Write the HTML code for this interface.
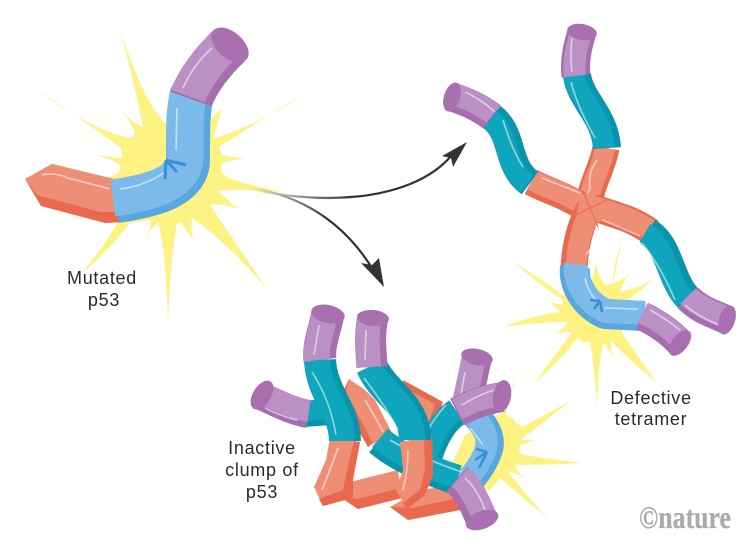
<!DOCTYPE html>
<html><head><meta charset="utf-8">
<style>
html,body{margin:0;padding:0;background:#fff}
svg{display:block}
text{font-family:"Liberation Sans",sans-serif;fill:#2b2b2b;font-size:18px;letter-spacing:.7px;text-anchor:middle}
path{fill:none;stroke-linecap:butt;stroke-linejoin:round}
.h{stroke:#fff;stroke-opacity:.55;stroke-width:1.6}
.b{fill:#FEF282;stroke:none}
.pl{stroke:#BA90C5}.pd{stroke:#A66EAF}
.bl{stroke:#7CBBE9}.bd{stroke:#58A7DF}
.tl{stroke:#0FA5BD}.td{stroke:#0A94AC}
.ol{stroke:#EE8E75}.od{stroke:#E8694E}
.e1{fill:#A96FB0}
</style></head>
<body>
<svg width="751" height="556" viewBox="0 0 751 556" xmlns="http://www.w3.org/2000/svg">
<defs>
<linearGradient id="g1" gradientUnits="userSpaceOnUse" x1="250" y1="188" x2="350" y2="195"><stop offset="0" stop-color="#FEF282"/><stop offset=".35" stop-color="#bbb"/><stop offset="1" stop-color="#333"/></linearGradient>
<linearGradient id="g2" gradientUnits="userSpaceOnUse" x1="250" y1="188" x2="330" y2="215"><stop offset="0" stop-color="#FEF282"/><stop offset=".4" stop-color="#aaa"/><stop offset="1" stop-color="#333"/></linearGradient>
</defs>

<!-- main burst -->
<path class="b" d="M118,23 Q142,100 165,123 L205,125 L222,108 L213,139 Q265,122 305,93 Q245,130 219,147 L222,155 Q232,158 248,158 Q232,160 222,163 Q218,172 228,178 Q255,187 285,192 Q240,188 218,191 Q225,198 238,209 Q222,203 210,205 Q240,250 268,290 Q225,240 192,218 Q190,232 194,241 Q188,232 180,222 L177,223 Q170,260 168,325 Q166,250 158,222 Q150,230 144,241 Q152,228 150,220 L130,223 Q105,255 82,273 Q105,245 118,222 L107,177 Q122,175 120,165 Q110,158 93,155 Q112,157 122,158 Q122,150 120,147 Q85,122 35,88 Q90,130 130,138 Q137,135 133,128 Q128,118 121,110 Q135,125 143,127 Q135,85 118,23Z"/>

<!-- arrows -->
<path d="M245,187 C310,205 410,205 452,155" stroke="url(#g1)" stroke-width="2.2"/>
<polygon points="467,142 442,156 451,158 453,167" fill="#333"/>
<path d="M245,187 C305,195 345,225 372,268" stroke="url(#g2)" stroke-width="2.2"/>
<polygon points="384,287 361,263 372,265 379,258" fill="#333"/>

<!-- main monomer -->
<polygon points="25,179 52,164 118,180 124,222 105,223 41,206" fill="#E8694E"/>
<polygon points="25,179 52,164 118,180 120,212 100,212 37,195" fill="#EE8E75"/>
<path class="h" d="M42,175 Q55,172 68,178 L110,189"/>
<path class="bd" stroke-width="44" d="M192,94 C188,110 188,125 188,160 Q188,180 160,191 Q140,198 116,201"/>
<path class="bl" stroke-width="37" transform="translate(-3,-3)" d="M192,94 C188,110 188,125 188,160 Q188,180 160,191 Q140,198 116,201"/>
<path class="h" d="M177,108 L176,150"/><path class="h" d="M120,189 Q145,186 165,172"/>
<path d="M166,160 L186,165 M166,160 L177,172 M166,160 L165,179" stroke="#3292D3" stroke-width="3"/>
<path class="pd" stroke-width="44" d="M191,99 C197,82 212,62 230,45"/>
<path class="pl" stroke-width="36" transform="translate(-3,-3)" d="M191,99 C197,82 212,62 230,45"/>
<path class="h" d="M183,88 Q193,65 212,48"/>
<ellipse class="e1" cx="230" cy="45" rx="22" ry="13" transform="rotate(41 230 45)"/>

<!-- tetramer burst -->
<path class="b" d="M622,240 Q612,270 613,283 Q620,282 628,275 Q622,285 620,292 Q640,288 655,278 Q635,295 620,305 L622,333 Q640,360 657,383 Q635,365 610,340 Q611,348 612,355 Q607,348 603,342 Q598,370 597,407 Q595,370 590,342 L583,342 Q578,338 578,338 Q560,360 535,383 Q555,355 572,332 Q565,332 555,333 Q565,328 568,322 Q535,322 503,327 Q535,315 560,312 Q555,306 550,302 Q558,304 563,305 L563,300 Q540,285 515,263 Q540,278 563,295 L590,285 Q594,275 596,263 Q598,275 605,285 Q610,285 613,283 Z"/>

<!-- tetramer arms -->
<path class="od" stroke-width="27" d="M606,148 C602,170 590,185 589,208"/>
<path class="ol" stroke-width="20" transform="translate(-1,0)" d="M606,148 C602,170 590,185 589,208"/>
<path class="h" d="M597,160 Q588,172 590,188 Q587,196 584,200"/>
<path class="od" stroke-width="27" d="M531,182 C550,192 565,195 586,209"/>
<path class="ol" stroke-width="21" transform="translate(1,-2)" d="M531,182 C550,192 565,195 586,209"/>
<path class="h" d="M542,178 L580,193"/>
<path class="od" stroke-width="27" d="M592,207 L625,218 Q640,224 651,232"/>
<path class="ol" stroke-width="21" transform="translate(0,-1)" d="M592,207 L625,218 Q640,224 651,232"/>
<path class="h" d="M600,219 L640,236"/>
<path class="od" stroke-width="27" d="M590,208 C580,225 575,245 574,270"/>
<path class="ol" stroke-width="21" transform="translate(2,0)" d="M590,208 C580,225 575,245 574,270"/>
<path class="h" d="M596,225 Q598,240 586,255"/>
<polygon points="590,192 606,203 602,220 590,226 576,216 580,198" fill="#EE8E75"/>
<path d="M590,208 L582,190 M590,208 L607,200 M590,208 L572,217 M590,208 L598,227" stroke="#E8694E" stroke-width="1.2"/>

<path class="td" stroke-width="28" d="M577,75 C580,100 605,115 607,148"/>
<path class="tl" stroke-width="21" transform="translate(-3,-1)" d="M577,75 C580,100 605,115 607,148"/>
<path class="h" d="M571,82 Q578,108 595,138"/>
<path class="td" stroke-width="28" d="M492,117 C515,135 505,165 530,183"/>
<path class="tl" stroke-width="21" transform="translate(-3,1)" d="M492,117 C515,135 505,165 530,183"/>
<path class="h" d="M503,120 Q512,150 523,167"/>
<path class="td" stroke-width="28" d="M648,232 C670,245 670,280 688,298"/>
<path class="tl" stroke-width="21" transform="translate(-3,1)" d="M648,232 C670,245 670,280 688,298"/>
<path class="h" d="M642,243 Q660,265 675,300"/>

<path class="pd" stroke-width="29" d="M582,32 C578,45 574,60 576,76"/>
<path class="pl" stroke-width="22" transform="translate(-1,0)" d="M582,32 C578,45 574,60 576,76"/>
<path class="h" d="M572,38 Q570,55 572,72"/>
<ellipse class="e1" cx="582" cy="32" rx="15" ry="8" transform="rotate(10 582 32)"/>
<path class="pd" stroke-width="29" d="M452,97 C470,103 480,108 492,117"/>
<path class="pl" stroke-width="22" transform="translate(1,-3)" d="M452,97 C470,103 480,108 492,117"/>
<path class="h" d="M465,92 Q482,100 495,112"/>
<ellipse class="e1" cx="452" cy="97" rx="15" ry="8" transform="rotate(-72 452 97)"/>
<path class="pd" stroke-width="29" d="M688,298 C700,310 712,313 727,320"/>
<path class="pl" stroke-width="22" transform="translate(0,-2)" d="M688,298 C700,310 712,313 727,320"/>
<path class="h" d="M685,305 Q700,318 720,325"/>
<ellipse class="e1" cx="727" cy="320" rx="15" ry="8" transform="rotate(-72 727 320)"/>

<path class="bd" stroke-width="30" d="M575,267 C573,285 585,305 605,314 L644,316"/>
<path class="bl" stroke-width="24" transform="translate(1,-3)" d="M575,267 C573,285 585,305 605,314 L644,316"/>
<path class="h" d="M585,278 Q588,292 596,300"/><path class="h" d="M604,308 L638,309"/>
<path d="M600,301 L590,300 M600,301 L594,309 M600,301 L602,312" stroke="#3292D3" stroke-width="2.5"/>
<path class="pd" stroke-width="29" d="M642,316 C655,322 668,330 680,343"/>
<path class="pl" stroke-width="22" transform="translate(1,-3)" d="M642,316 C655,322 668,330 680,343"/>
<path class="h" d="M650,310 Q665,318 680,330"/>
<ellipse class="e1" cx="680" cy="343" rx="15" ry="8" transform="rotate(-52 680 343)"/>

<!-- clump burst -->
<path class="b" d="M522,357 Q512,385 506,415 L512,418 Q518,425 522,427 Q545,415 572,400 Q540,425 520,440 Q528,440 535,440 Q527,443 520,445 Q517,452 524,455 Q555,460 583,463 Q550,465 516,465 Q515,470 525,478 Q515,472 508,472 Q530,500 550,520 Q520,495 500,478 L490,490 L445,480 L465,435 L503,412 Z"/>

<!-- clump -->
<path class="pd" stroke-width="30" d="M477,358 C474,370 472,380 468,400"/>
<path class="pl" stroke-width="24" transform="translate(-3,0)" d="M477,358 C474,370 472,380 468,400"/>
<path class="h" d="M465,372 L461,395"/>
<ellipse class="e1" cx="477" cy="357" rx="16" ry="8" transform="rotate(12 477 357)"/>

<path class="bd" stroke-width="28" d="M475,415 Q495,435 488,452 Q478,478 455,492"/>
<path class="bl" stroke-width="22" transform="translate(-3,-1)" d="M475,415 Q495,435 488,452 Q478,478 455,492"/>
<path class="h" d="M470,428 L483,445"/>
<path d="M487,452 L476,449 M487,452 L475,460 M487,452 L479,468" stroke="#3292D3" stroke-width="2.5"/>

<!-- back orange arm -->
<polygon points="403,380 443,402 428,440 395,420" fill="#E8694E"/>
<polygon points="403,387 435,404 424,436 395,420" fill="#EE8E75"/>

<!-- chain C teal/purple -->
<path class="td" stroke-width="26" d="M303,414 L345,411"/>
<path class="tl" stroke-width="20" transform="translate(0,-3)" d="M303,414 L345,411"/>
<path class="pd" stroke-width="28" d="M261,396 C280,405 295,412 308,414"/>
<path class="pl" stroke-width="22" transform="translate(1,-3)" d="M261,396 C280,405 295,412 308,414"/>
<path class="h" d="M265,408 Q285,418 298,420"/>
<ellipse class="e1" cx="262" cy="395" rx="16" ry="9" transform="rotate(-58 262 395)"/>

<!-- bottom orange arms -->
<polygon points="340,497 358,509 402,498 398,470 350,482" fill="#EE8E75"/>
<polygon points="340,497 358,509 402,498 400,488 358,499" fill="#E8694E"/>
<polygon points="390,507 408,520 460,510 456,485 420,490" fill="#EE8E75"/>
<polygon points="390,507 408,520 460,510 458,498 412,508" fill="#E8694E"/>

<!-- chain A orange -->
<polygon points="330,438 360,442 352,480 352,498 323,506 314,487 326,460" fill="#EE8E75"/>
<polygon points="354,441 360,442 353,480 353,498 323,506 319,499 343,490 347,470" fill="#E8694E"/>
<path class="h" d="M338,448 Q330,470 322,490"/>

<!-- large orange going diagonal -->
<polygon points="349,379 340,398 368,447 392,433 375,400 365,390" fill="#EE8E75"/>
<polygon points="349,379 340,398 368,447 372,442 350,400 345,396" fill="#E8694E"/>
<path class="h" d="M365,400 Q380,425 383,432"/>

<!-- chain E teal -->
<path class="td" stroke-width="28" d="M457,412 C445,420 435,435 428,458"/>
<path class="tl" stroke-width="22" transform="translate(-2,-2)" d="M457,412 C445,420 435,435 428,458"/>
<path class="h" d="M446,405 Q432,420 424,438"/>
<path class="pd" stroke-width="30" d="M457,412 C475,403 485,400 502,397"/>
<path class="pl" stroke-width="23" transform="translate(0,-3)" d="M457,412 C475,403 485,400 502,397"/>
<path class="h" d="M462,405 Q480,394 495,390"/>
<ellipse class="e1" cx="502" cy="396" rx="16" ry="9" transform="rotate(-80 502 396)"/>

<!-- chain A teal / purple -->
<path class="td" stroke-width="32" d="M320,360 C322,395 345,410 345,441"/>
<path class="tl" stroke-width="26" transform="translate(-3,0)" d="M320,360 C322,395 345,410 345,441"/>
<path class="h" d="M312,372 Q330,400 336,435"/>
<path class="pd" stroke-width="33" d="M328,313 C325,330 318,345 320,360"/>
<path class="pl" stroke-width="26" transform="translate(-3,0)" d="M328,313 C325,330 318,345 320,360"/>
<path class="h" d="M319,325 L314,355"/>
<ellipse class="e1" cx="328" cy="314" rx="17" ry="9" transform="rotate(12 328 314)"/>

<!-- chain F teal -->
<path class="td" stroke-width="30" d="M379,441 C395,455 425,470 457,480"/>
<path class="tl" stroke-width="24" transform="translate(1,-3)" d="M379,441 C395,455 425,470 457,480"/>
<path class="h" d="M390,440 Q425,460 462,472"/>

<!-- chain B orange -->
<polygon points="400,442 432,436 433,475 425,495 407,509 396,490 403,470" fill="#EE8E75"/>
<polygon points="424,438 432,436 433,475 425,495 407,509 403,503 420,490 425,470" fill="#E8694E"/>
<path class="h" d="M408,450 Q408,470 403,490"/>

<!-- chain B teal / purple -->
<path class="td" stroke-width="32" d="M372,367 C385,395 415,405 415,440"/>
<path class="tl" stroke-width="26" transform="translate(-3,0)" d="M372,367 C385,395 415,405 415,440"/>
<path class="h" d="M364,378 Q385,405 398,430"/>
<path class="pd" stroke-width="31" d="M373,317 C369,335 371,350 372,367"/>
<path class="pl" stroke-width="24" transform="translate(-3,0)" d="M373,317 C369,335 371,350 372,367"/>
<path class="h" d="M366,330 L365,360"/>
<ellipse class="e1" cx="373" cy="318" rx="16" ry="8" transform="rotate(5 373 318)"/>

<!-- chain F purple -->
<path class="pd" stroke-width="32" d="M457,479 C470,490 475,505 482,520"/>
<path class="pl" stroke-width="25" transform="translate(3,-2)" d="M457,479 C470,490 475,505 482,520"/>
<path class="h" d="M465,478 Q478,490 485,510"/>
<ellipse class="e1" cx="482" cy="520" rx="17" ry="9" transform="rotate(-20 482 520)"/>

<!-- labels -->
<text x="102" y="284">Mutated</text>
<text x="104" y="306">p53</text>
<text x="262" y="454">Inactive</text>
<text x="262" y="476">clump of</text>
<text x="262" y="498">p53</text>
<text x="651" y="404">Defective</text>
<text x="651" y="425">tetramer</text>
<text x="639" y="528" textLength="92" lengthAdjust="spacingAndGlyphs" style="font-family:'Liberation Serif',serif;font-weight:bold;font-size:32px;fill:#ababab;text-anchor:start;letter-spacing:0;stroke:#ababab;stroke-width:.3">©nature</text>
</svg>
</body></html>
